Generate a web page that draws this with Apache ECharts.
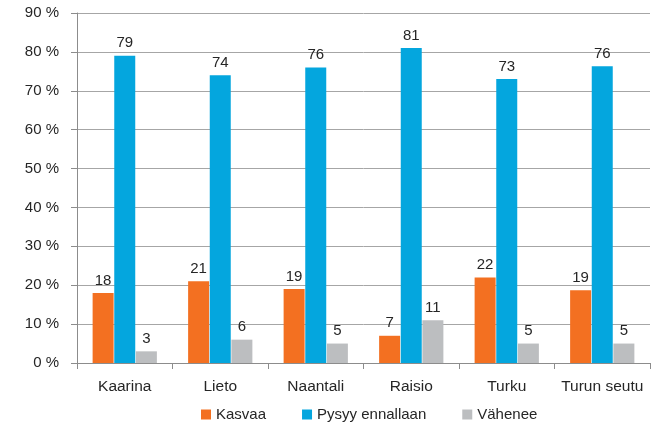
<!DOCTYPE html>
<html>
<head>
<meta charset="utf-8">
<script src="https://cdn.jsdelivr.net/npm/echarts@6/dist/echarts.min.js"></script>
<style>
  html, body { margin: 0; padding: 0; background: #fff; }
  #chart { width: 666px; height: 426px; }
</style>
</head>
<body>
<div id="chart"></div>
<script>
  const categories = ['Kaarina', 'Lieto', 'Naantali', 'Raisio', 'Turku', 'Turun seutu']
  const kasvaa = [18, 21, 19, 7, 22, 18.7]
  const pysyy = [79, 74, 76, 81, 73, 76.3]
  const vahenee = [3, 6, 5, 11, 5, 5]

  const font = 'Liberation Sans, Arial, sans-serif'
  const chart = echarts.init(document.getElementById('chart'))

  const label = {
    show: true,
    position: 'top',
    distance: 5,
    color: '#262626',
    fontSize: 15,
    fontFamily: font,
    formatter: (p) => Math.round(p.value)
  }

  const bar = (name, data, color) => ({
    name,
    type: 'bar',
    data,
    barWidth: 21,
    barGap: '3%',
    itemStyle: { color },
    label
  })

  chart.setOption({
    animation: false,
    grid: { left: 77, right: 16, top: 13, bottom: 63 },
    legend: {
      top: 407,
      left: 201,
      padding: 0,
      itemWidth: 10,
      itemHeight: 10,
      itemGap: 36,
      icon: 'rect',
      textStyle: { fontSize: 15, color: '#262626', fontFamily: font },
      data: ['Kasvaa', 'Pysyy ennallaan', 'Vähenee']
    },
    xAxis: {
      type: 'category',
      data: categories,
      axisLine: { lineStyle: { color: '#8c8c8c' } },
      axisTick: { show: true, length: 6, lineStyle: { color: '#8c8c8c' } },
      axisLabel: { interval: 0, fontSize: 15.5, color: '#262626', fontFamily: font, margin: 16 }
    },
    yAxis: {
      type: 'value',
      min: 0,
      max: 90,
      interval: 10,
      axisLine: { show: true, lineStyle: { color: '#8c8c8c' } },
      axisTick: { show: true, length: 6, lineStyle: { color: '#8c8c8c' } },
      axisLabel: {
        fontSize: 15,
        color: '#262626',
        fontFamily: font,
        margin: 18,
        formatter: '{value} %'
      },
      splitLine: { lineStyle: { color: '#a6a6a6' } }
    },
    series: [
      bar('Kasvaa', kasvaa, '#f37021'),
      bar('Pysyy ennallaan', pysyy, '#04a6de'),
      bar('Vähenee', vahenee, '#bcbec0')
    ]
  })
</script>
</body>
</html>
